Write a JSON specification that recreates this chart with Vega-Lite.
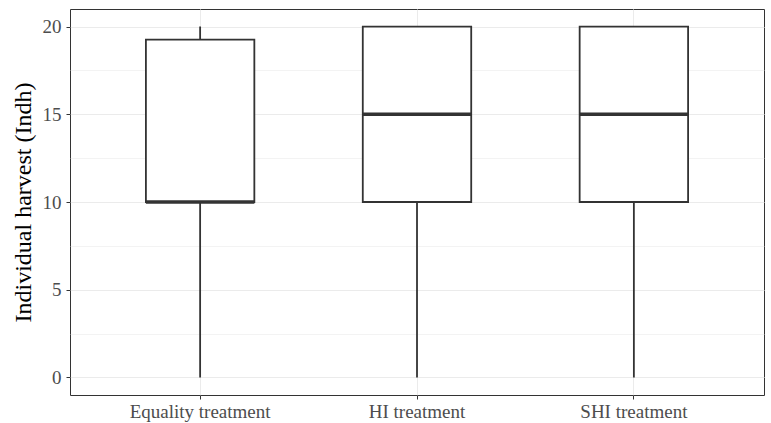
{
  "$schema": "https://vega.github.io/schema/vega-lite/v6.json",
  "width": 694,
  "height": 386,
  "autosize": {"type": "none"},
  "padding": {"left": 70, "top": 9, "right": 7, "bottom": 28},
  "background": "white",
  "data": {"values": [
    {"group": "Equality treatment", "min": 0, "q1": 10, "median": 10, "q3": 19.25, "max": 20},
    {"group": "HI treatment", "min": 0, "q1": 10, "median": 15, "q3": 20, "max": 20},
    {"group": "SHI treatment", "min": 0, "q1": 10, "median": 15, "q3": 20, "max": 20}
  ]},
  "encoding": {
    "x": {
      "field": "group", "type": "nominal", "sort": null,
      "scale": {"type": "band", "paddingInner": 0, "paddingOuter": 0.1},
      "axis": {
        "title": null, "grid": true, "bandPosition": 0.5, "labelAngle": 0,
        "gridColor": "#ebebeb", "gridWidth": 1,
        "domain": false, "tickColor": "#333333", "tickSize": 4, "tickWidth": 1,
        "labelColor": "#4d4d4d", "labelFont": "Liberation Serif", "labelFontSize": 19,
        "labelPadding": 3
      }
    }
  },
  "layer": [
    {
      "mark": {"type": "rule", "color": "#333333", "strokeWidth": 1.8},
      "encoding": {
        "y": {
          "field": "min", "type": "quantitative",
          "scale": {"domain": [-1, 21], "nice": false, "zero": false},
          "axis": {
            "title": "Individual harvest (Indh)",
            "values": [0, 2.5, 5, 7.5, 10, 12.5, 15, 17.5, 20],
            "labelExpr": "datum.value % 5 === 0 ? datum.label : ''",
            "grid": true,
            "gridColor": "#ebebeb",
            "gridWidth": {"condition": {"test": "datum.value % 5 === 0", "value": 1.1}, "value": 0.6},
            "tickOpacity": {"condition": {"test": "datum.value % 5 === 0", "value": 1}, "value": 0},
            "domain": false, "tickColor": "#333333", "tickSize": 4, "tickWidth": 1,
            "labelColor": "#4d4d4d", "labelFont": "Liberation Serif", "labelFontSize": 19,
            "labelPadding": 5,
            "titleFont": "Liberation Serif", "titleFontSize": 24, "titleFontWeight": "normal",
            "titleColor": "#000000", "titlePadding": 7
          }
        },
        "y2": {"field": "max"}
      }
    },
    {
      "mark": {"type": "bar", "fill": "white", "stroke": "#333333", "strokeWidth": 1.8, "width": {"band": 0.5}},
      "encoding": {
        "y": {"field": "q1", "type": "quantitative"},
        "y2": {"field": "q3"}
      }
    },
    {
      "mark": {"type": "tick", "color": "#333333", "thickness": 3.6, "size": 108.5, "opacity": 1},
      "encoding": {
        "y": {"field": "median", "type": "quantitative"}
      }
    }
  ],
  "config": {
    "view": {"stroke": "#333333", "strokeWidth": 1}
  }
}
